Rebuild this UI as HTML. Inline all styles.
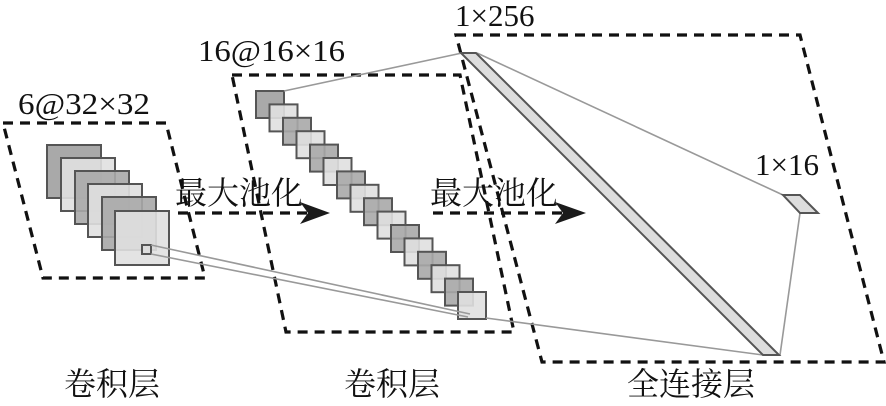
<!DOCTYPE html>
<html><head><meta charset="utf-8"><style>
html,body{margin:0;padding:0;background:#fff;}
svg{display:block}
</style></head><body>
<svg width="886" height="406" viewBox="0 0 886 406" xmlns="http://www.w3.org/2000/svg">
<g fill="none" stroke="#111" stroke-width="3.2" stroke-dasharray="10,7">
<polygon points="3,123 166,123 205,278 43,278"/>
<polygon points="232,75 460,75 514,332 286,332"/>
<polygon points="456,35 800,35 884,362 542,362"/>
<line x1="178" y1="213" x2="310" y2="213"/>
<line x1="433" y1="213" x2="565" y2="213"/>
</g>
<polygon points="300,202 330,213 300,224 308,213" fill="#1a1a1a"/>
<polygon points="555,202 586,213 555,224 563,213" fill="#1a1a1a"/>
<g stroke="#555" stroke-width="2">
<rect x="47" y="145" width="54" height="53" fill="#a9a9a9"/>
<rect x="61" y="158" width="54" height="53" fill="#e0e0e0" fill-opacity="0.9"/>
<rect x="75" y="171" width="54" height="53" fill="#a9a9a9" fill-opacity="0.9"/>
<rect x="88" y="184" width="54" height="53" fill="#e0e0e0" fill-opacity="0.9"/>
<rect x="102" y="197" width="54" height="53" fill="#a9a9a9" fill-opacity="0.9"/>
<rect x="115" y="211" width="54" height="54" fill="#e0e0e0" fill-opacity="0.9"/>
<rect x="142" y="245" width="9" height="9" fill="#ddd"/>
</g>
<g stroke="#555" stroke-width="2">
<rect x="256" y="91" width="28" height="27" fill="#a9a9a9"/>
<rect x="269.5" y="104.4" width="28" height="27" fill="#e0e0e0" fill-opacity=".9"/>
<rect x="283" y="117.8" width="28" height="27" fill="#a9a9a9" fill-opacity=".9"/>
<rect x="296.5" y="131.2" width="28" height="27" fill="#e0e0e0" fill-opacity=".9"/>
<rect x="310" y="144.6" width="28" height="27" fill="#a9a9a9" fill-opacity=".9"/>
<rect x="323.5" y="158" width="28" height="27" fill="#e0e0e0" fill-opacity=".9"/>
<rect x="337" y="171.4" width="28" height="27" fill="#a9a9a9" fill-opacity=".9"/>
<rect x="350.5" y="184.8" width="28" height="27" fill="#e0e0e0" fill-opacity=".9"/>
<rect x="364" y="198.2" width="28" height="27" fill="#a9a9a9" fill-opacity=".9"/>
<rect x="377.5" y="211.6" width="28" height="27" fill="#e0e0e0" fill-opacity=".9"/>
<rect x="391" y="225" width="28" height="27" fill="#a9a9a9" fill-opacity=".9"/>
<rect x="404.5" y="238.4" width="28" height="27" fill="#e0e0e0" fill-opacity=".9"/>
<rect x="418" y="251.8" width="28" height="27" fill="#a9a9a9" fill-opacity=".9"/>
<rect x="431.5" y="265.2" width="28" height="27" fill="#e0e0e0" fill-opacity=".9"/>
<rect x="445" y="278.6" width="28" height="27" fill="#a9a9a9" fill-opacity=".9"/>
<rect x="458" y="292" width="28" height="27" fill="#e0e0e0" fill-opacity=".9"/>
</g>
<g stroke="#999" stroke-width="1.6" fill="none">
<line x1="284" y1="91" x2="462" y2="53"/>
<line x1="151" y1="245" x2="470" y2="314"/>
<line x1="151" y1="254" x2="468" y2="317"/>
<line x1="477" y1="53" x2="783" y2="195"/>
<line x1="800" y1="213" x2="780" y2="355"/>
<line x1="486" y1="318" x2="763" y2="355"/>
</g>
<polygon points="461,53 476,53 779,355 763,355" fill="#ddd" stroke="#555" stroke-width="2"/>
<polygon points="783,195 800,195 818,213 800,213" fill="#ddd" stroke="#555" stroke-width="2"/>
<g font-family="'Liberation Serif','DejaVu Serif',serif" font-size="31" fill="#111">
<text x="18" y="114" textLength="132" lengthAdjust="spacingAndGlyphs">6@32×32</text>
<text x="198" y="61" textLength="147" lengthAdjust="spacingAndGlyphs">16@16×16</text>
<text x="455" y="26">1×256</text>
<text x="755" y="175">1×16</text>
</g>
<g font-family="'Liberation Serif','Noto Serif CJK SC','Noto Sans CJK SC',serif" font-size="32" fill="#111">
<text x="175" y="204">最大池化</text>
<text x="430" y="204">最大池化</text>
<text x="64" y="395">卷积层</text>
<text x="344" y="395">卷积层</text>
<text x="627" y="395">全连接层</text>
</g>
</svg>
</body></html>
